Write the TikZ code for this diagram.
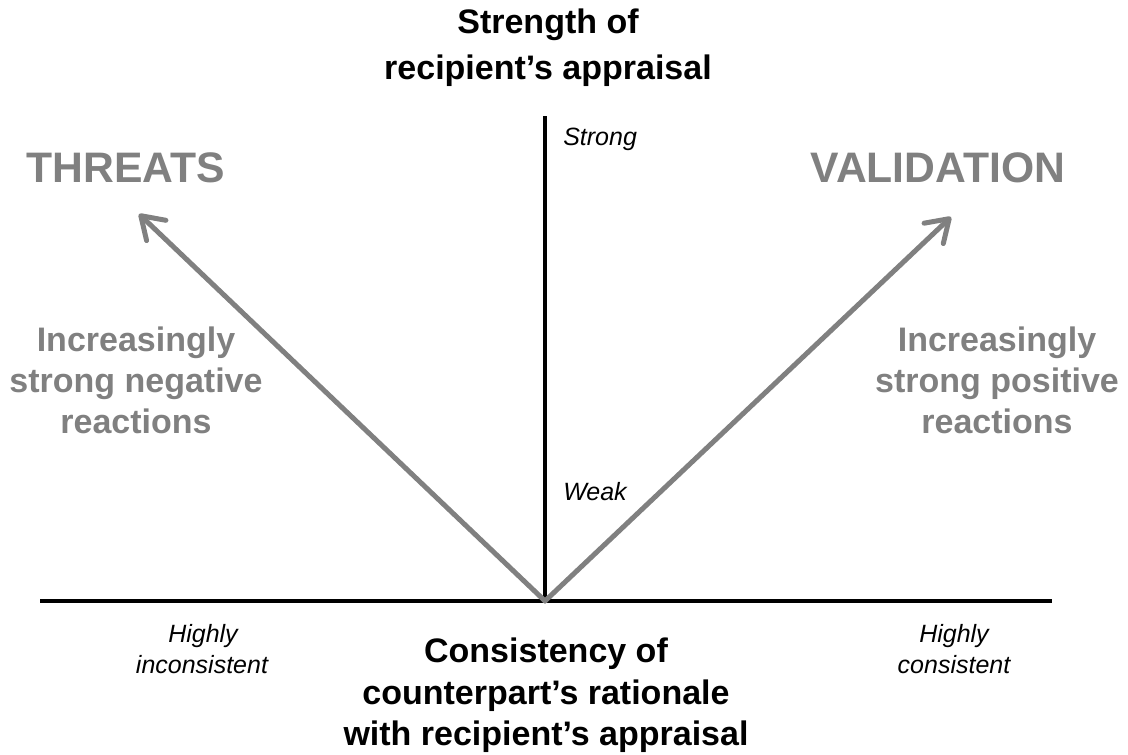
\documentclass[tikz,border=0pt]{standalone}
\usepackage{fontspec}
\setmainfont{Liberation Sans}
\usetikzlibrary{arrows.meta}
\definecolor{refgray}{HTML}{808080}
\tikzset{
  axisline/.style={line width=3pt, black},
  reactarrow/.style={line width=3.75pt, refgray, line cap=round,
    -{Straight Barb[length=16pt, width=21pt, round]}},
  titletext/.style={font=\bfseries\fontsize{25.5}{30}\selectfont, anchor=base, inner sep=0pt},
  bigtext/.style={font=\bfseries\fontsize{32}{36}\selectfont, text=refgray, anchor=base, inner sep=0pt},
  graytext/.style={font=\bfseries\fontsize{25.5}{30}\selectfont, text=refgray, anchor=base, inner sep=0pt},
  smalltext/.style={font=\itshape\fontsize{18.75}{22}\selectfont, anchor=base, inner sep=0pt},
}
\begin{document}
\begin{tikzpicture}[x=0.75pt, y=-0.75pt]
  \useasboundingbox (0,0) rectangle (1128,755);
  % axes
  \coordinate (O) at (545,601);
  \coordinate (hL) at (40,601);
  \coordinate (hR) at (1052,601);
  \coordinate (vT) at (545,116);
  \coordinate (tipL) at (139,214);
  \coordinate (tipR) at (951,217);
  \draw[axisline] (hL) -- (hR);
  \draw[axisline] (O) -- (vT);
  \draw[reactarrow] (O) -- (tipL);
  \draw[reactarrow] (O) -- (tipR);
  % title
  \node[titletext] (t1) at (548,34) {Strength of};
  \node[titletext] (t2) at (548,80) {recipient’s appraisal};
  % big labels
  \node[bigtext] (threats) at (126,183) {THREATS};
  \node[bigtext] (valid) at (938,183) {VALIDATION};
  % gray blocks
  \node[graytext] (l1) at (136,352) {Increasingly};
  \node[graytext] (l2) at (136,393) {strong negative};
  \node[graytext] (l3) at (136,434) {reactions};
  \node[graytext] (r1) at (997,352) {Increasingly};
  \node[graytext] (r2) at (997,393) {strong positive};
  \node[graytext] (r3) at (997,434) {reactions};
  % axis labels
  \node[smalltext, anchor=base west] (strong) at (563,146) {Strong};
  \node[smalltext, anchor=base west] (weak) at (563,500) {Weak};
  \node[smalltext] (hi1) at (203,642) {Highly};
  \node[smalltext] (hi2) at (202,673) {inconsistent};
  \node[smalltext] (hc1) at (954,642) {Highly};
  \node[smalltext] (hc2) at (954,673) {consistent};
  % bottom title
  \node[titletext] (b1) at (546,662) {Consistency of};
  \node[titletext] (b2) at (546,704) {counterpart’s rationale};
  \node[titletext] (b3) at (546,745) {with recipient’s appraisal};
\end{tikzpicture}
\end{document}
